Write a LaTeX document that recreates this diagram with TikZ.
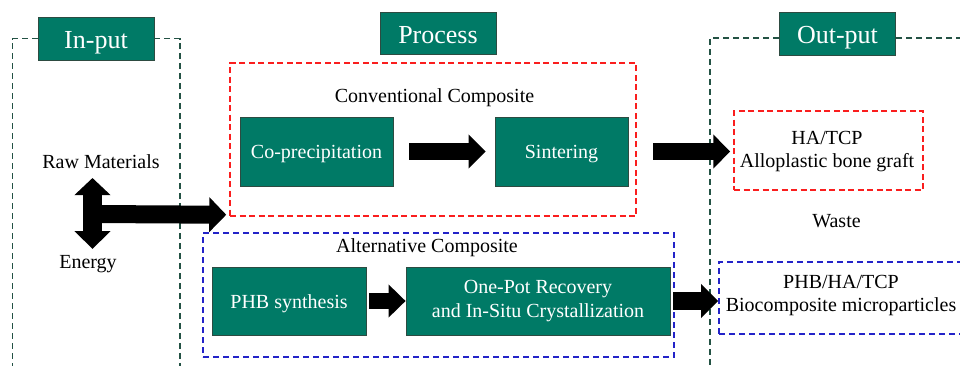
\documentclass[tikz,border=0pt]{standalone}
\usepackage{fontspec}
\setmainfont{Liberation Serif}
\usetikzlibrary{arrows.meta}
\definecolor{tealfill}{RGB}{0,122,102}
\definecolor{tealedge}{RGB}{45,75,65}
\definecolor{framecol}{RGB}{35,82,68}
\definecolor{redd}{RGB}{250,30,30}
\definecolor{bluee}{RGB}{35,35,200}
\begin{document}
\begin{tikzpicture}[x=1pt,y=-1pt,
  tealbox/.style={draw=tealedge, line width=0.8pt, fill=tealfill, text=white,
    font=\fontsize{20}{24}\selectfont, align=center, inner sep=0pt},
  onelinebox/.style={tealbox, text height=16.5pt, text depth=2pt},
  headbox/.style={tealbox, font=\fontsize{26}{30}\selectfont, minimum width=116pt, minimum height=43pt,
    text height=23pt, text depth=3pt},
  lbl/.style={font=\fontsize{20}{23}\selectfont, align=center, inner sep=0pt, text=black},
  frameline/.style={draw=framecol, line width=1.7pt, dash pattern=on 6pt off 4pt},
  redframe/.style={draw=redd, line width=1.5pt, dash pattern=on 6pt off 3.5pt, inner sep=0pt},
  blueframe/.style={draw=bluee, line width=1.6pt, dash pattern=on 6pt off 4pt, inner sep=0pt},
  blockarrow/.style={line width=17pt, -{Triangle[length=17pt,width=33pt]}},
]
\useasboundingbox (0,0) rectangle (960,365);

% header boxes
\node[headbox] (inp) at (96,38.5) {In-put};
\node[headbox, minimum height=42pt] (proc) at (438,33) {Process};
\node[headbox] (outp) at (837.5,33.5) {Out-put};

% dashed frames
\draw[frameline] (inp.west) -- (12.5,38.5) -- (12.5,368);
\draw[frameline] (inp.east) -- (180,38.5) -- (180,368);
\draw[frameline] (779,38) -- (710,38) -- (710,368);
\draw[frameline] (896,38) -- (965,38);

% process frames
\node[redframe, minimum width=406pt, minimum height=153pt] (conv) at (433,139.5) {};
\node[blueframe, minimum width=471pt, minimum height=124pt] (alt) at (438.5,295) {};
\node[redframe, minimum width=189pt, minimum height=79pt] (outred) at (828.5,150.5) {};
\node[blueframe, minimum width=246pt, minimum height=72pt] (outblue) at (842,298) {};

% labels
\node[lbl, anchor=base] (convlbl) at (434.5,102) {Conventional Composite};
\node[lbl, anchor=base] (altlbl) at (427,252) {Alternative Composite};
\node[lbl, anchor=base] (raw) at (101,168) {Raw Materials};
\node[lbl, anchor=base] (energy) at (88,268) {Energy};
\node[lbl, anchor=base] (waste) at (836.5,227) {Waste};
\node[lbl] (hatcp) at (827,152) {HA/TCP\\Alloplastic bone graft};
\node[lbl] (phbhatcp) at (841,295.5) {PHB/HA/TCP\\Biocomposite microparticles};

% process boxes
\node[onelinebox, minimum width=153pt, minimum height=69pt] (copre) at (316.5,151.5) {Co-precipitation};
\node[onelinebox, minimum width=133pt, minimum height=69pt] (sinter) at (561.5,151.5) {Sintering};
\node[onelinebox, minimum width=154pt, minimum height=68pt] (phb) at (289,301) {PHB synthesis};
\node[tealbox, minimum width=264pt, minimum height=68pt] (onepot) at (538,301) {One-Pot Recovery\\and In-Situ Crystallization};

% input arrows
\coordinate (vtop) at (92.5,178);
\coordinate (vbot) at (92.5,249);
\coordinate (hstart) at (92.5,214);
\draw[line width=18.5pt, {Triangle[length=17pt,width=35pt]}-{Triangle[length=18pt,width=35pt]}] (vtop) -- (vbot);
\draw[line width=18pt, -{Triangle[length=17pt,width=34pt]}] (hstart) -- ([xshift=-3pt,yshift=2pt]conv.south west);

% process arrows
\draw[blockarrow] ([xshift=16pt]copre.east) -- ([xshift=-9pt]sinter.west);
\draw[blockarrow] ([xshift=25pt]sinter.east) -- ([xshift=-3pt]sinter.east -| outred.west);
\draw[blockarrow, line width=16pt, -{Triangle[length=17pt,width=32pt]}] ([xshift=3pt]phb.east) -- (onepot.west);
\draw[blockarrow, line width=18pt] ([xshift=3pt]onepot.east) -- (onepot.east -| outblue.west);
\end{tikzpicture}
\end{document}
